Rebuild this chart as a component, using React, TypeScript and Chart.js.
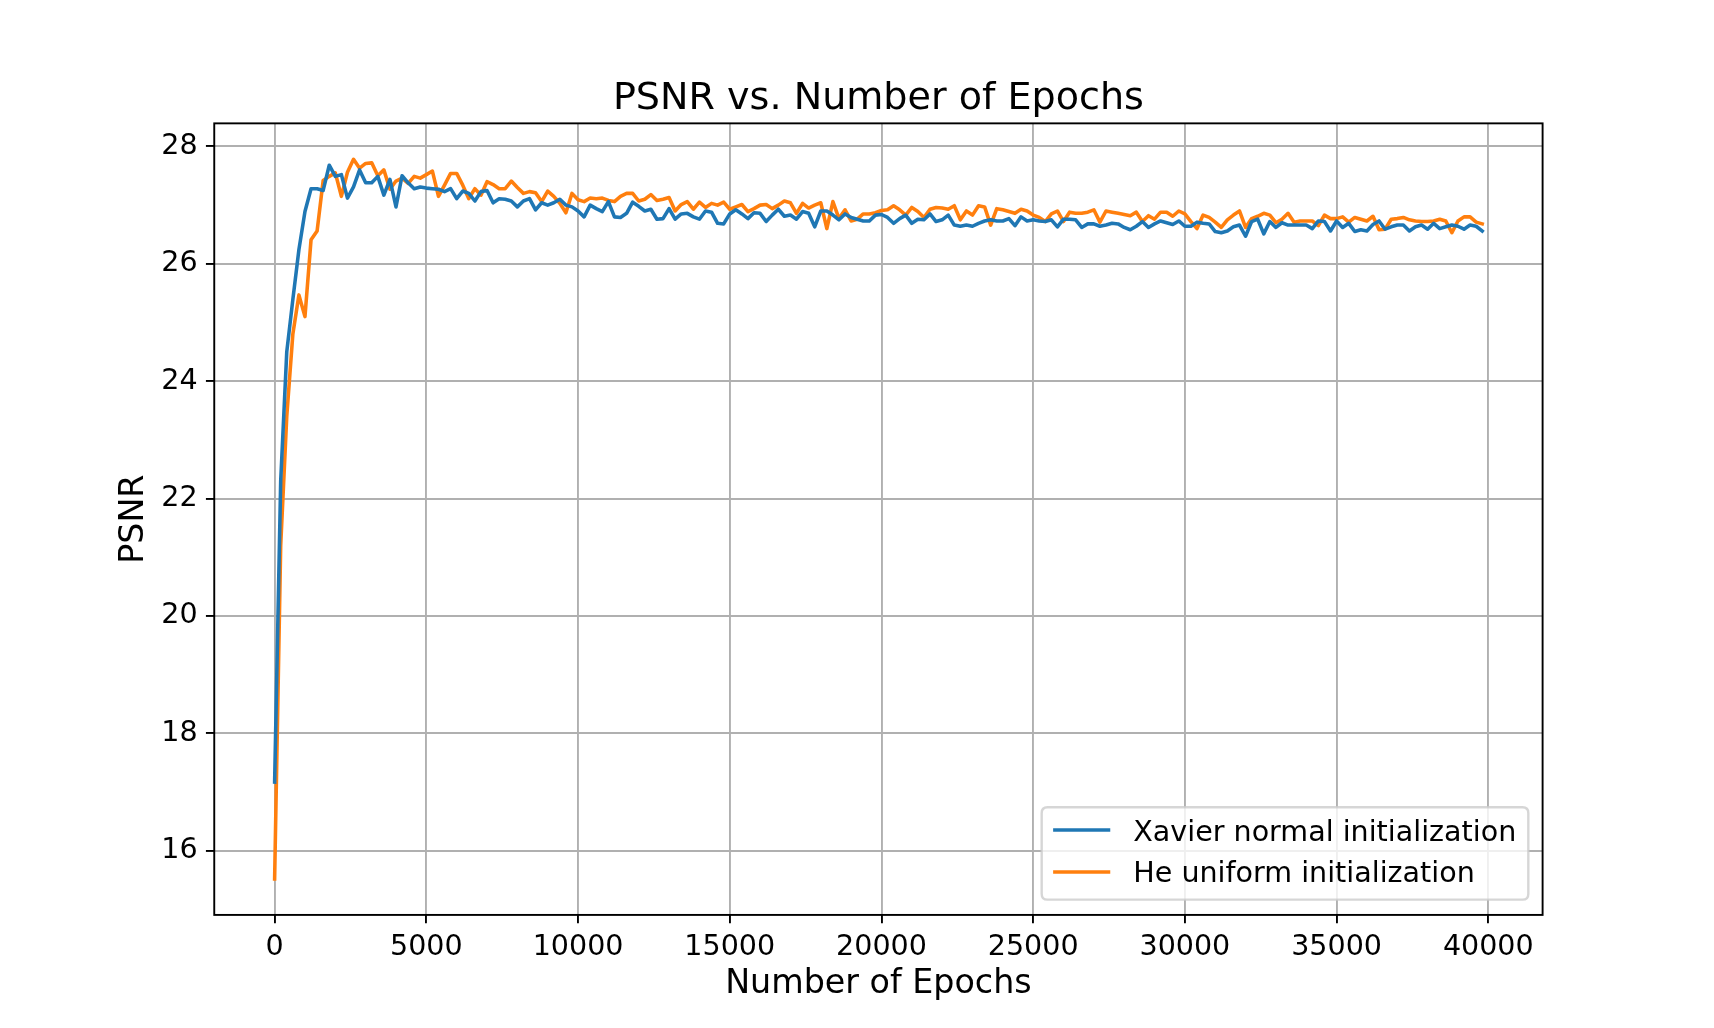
import React, { useEffect, useRef } from "react";
import { Chart, registerables } from "chart.js";

Chart.register(...registerables);

// ---------------- data ----------------
const epochs = [
  0, 200, 400, 600, 800, 1000, 1200, 1400, 1600, 1800,
  2000, 2200, 2400, 2600, 2800, 3000, 3200, 3400, 3600, 3800,
  4000, 4200, 4400, 4600, 4800, 5000, 5200, 5400, 5600, 5800,
  6000, 6200, 6400, 6600, 6800, 7000, 7200, 7400, 7600, 7800,
  8000, 8200, 8400, 8600, 8800, 9000, 9200, 9400, 9600, 9800,
  10000, 10200, 10400, 10600, 10800, 11000, 11200, 11400, 11600, 11800,
  12000, 12200, 12400, 12600, 12800, 13000, 13200, 13400, 13600, 13800,
  14000, 14200, 14400, 14600, 14800, 15000, 15200, 15400, 15600, 15800,
  16000, 16200, 16400, 16600, 16800, 17000, 17200, 17400, 17600, 17800,
  18000, 18200, 18400, 18600, 18800, 19000, 19200, 19400, 19600, 19800,
  20000, 20200, 20400, 20600, 20800, 21000, 21200, 21400, 21600, 21800,
  22000, 22200, 22400, 22600, 22800, 23000, 23200, 23400, 23600, 23800,
  24000, 24200, 24400, 24600, 24800, 25000, 25200, 25400, 25600, 25800,
  26000, 26200, 26400, 26600, 26800, 27000, 27200, 27400, 27600, 27800,
  28000, 28200, 28400, 28600, 28800, 29000, 29200, 29400, 29600, 29800,
  30000, 30200, 30400, 30600, 30800, 31000, 31200, 31400, 31600, 31800,
  32000, 32200, 32400, 32600, 32800, 33000, 33200, 33400, 33600, 33800,
  34000, 34200, 34400, 34600, 34800, 35000, 35200, 35400, 35600, 35800,
  36000, 36200, 36400, 36600, 36800, 37000, 37200, 37400, 37600, 37800,
  38000, 38200, 38400, 38600, 38800, 39000, 39200, 39400, 39600, 39800,
];

const xavierPSNR = [
  17.17, 22.3, 24.5, 25.39, 26.24, 26.89, 27.28, 27.28, 27.25, 27.68,
  27.49, 27.52, 27.12, 27.31, 27.6, 27.38, 27.38, 27.49, 27.17, 27.44,
  26.97, 27.5, 27.38, 27.28, 27.31, 27.29, 27.28, 27.27, 27.23, 27.28,
  27.11, 27.24, 27.2, 27.07, 27.23, 27.25, 27.04, 27.11, 27.1, 27.07,
  26.97, 27.07, 27.11, 26.92, 27.04, 27.0, 27.04, 27.1, 27.0, 26.97,
  26.9, 26.8, 27.0, 26.94, 26.89, 27.06, 26.8, 26.79, 26.86, 27.05,
  26.98, 26.9, 26.93, 26.76, 26.77, 26.94, 26.76, 26.85, 26.86, 26.8,
  26.76, 26.9, 26.88, 26.69, 26.68, 26.85, 26.92, 26.85, 26.77, 26.87,
  26.86, 26.72, 26.83, 26.93, 26.81, 26.83, 26.76, 26.89, 26.86, 26.63,
  26.9, 26.9, 26.83, 26.75, 26.85, 26.79, 26.76, 26.73, 26.73, 26.83,
  26.84, 26.79, 26.69, 26.77, 26.83, 26.69, 26.76, 26.75, 26.85, 26.72,
  26.75, 26.83, 26.66, 26.64, 26.66, 26.64, 26.69, 26.73, 26.75, 26.73,
  26.73, 26.77, 26.65, 26.8, 26.73, 26.75, 26.73, 26.72, 26.75, 26.63,
  26.76, 26.76, 26.75, 26.62, 26.68, 26.68, 26.64, 26.66, 26.69, 26.68,
  26.62, 26.58, 26.64, 26.72, 26.62, 26.68, 26.73, 26.7, 26.67, 26.73,
  26.64, 26.64, 26.71, 26.69, 26.68, 26.55, 26.53, 26.56, 26.63, 26.66,
  26.47, 26.72, 26.76, 26.51, 26.72, 26.62, 26.7, 26.66, 26.66, 26.66,
  26.66, 26.6, 26.73, 26.72, 26.56, 26.73, 26.62, 26.69, 26.55, 26.58,
  26.56, 26.67, 26.73, 26.59, 26.63, 26.66, 26.66, 26.56, 26.63, 26.66,
  26.59, 26.69, 26.6, 26.63, 26.66, 26.64, 26.59, 26.66, 26.64, 26.56,
];

const hePSNR = [
  15.52, 21.2, 23.4, 24.8, 25.47, 25.1, 26.41, 26.56, 27.42, 27.49,
  27.55, 27.15, 27.56, 27.78, 27.63, 27.71, 27.72, 27.5, 27.6, 27.27,
  27.41, 27.46, 27.37, 27.49, 27.46, 27.52, 27.58, 27.15, 27.34, 27.54,
  27.54, 27.34, 27.11, 27.28, 27.17, 27.4, 27.35, 27.28, 27.28, 27.41,
  27.3, 27.2, 27.23, 27.21, 27.06, 27.24, 27.15, 27.03, 26.87, 27.2,
  27.09, 27.06, 27.12, 27.11, 27.12, 27.08, 27.06, 27.15, 27.2, 27.2,
  27.07, 27.1, 27.18, 27.08, 27.1, 27.13, 26.9, 27.01, 27.06, 26.93,
  27.05, 26.96, 27.03, 27.0, 27.05, 26.93, 26.97, 27.01, 26.89, 26.94,
  27.0, 27.01, 26.94, 27.0, 27.07, 27.04, 26.86, 27.03, 26.95, 27.0,
  27.04, 26.6, 27.06, 26.77, 26.92, 26.73, 26.76, 26.85, 26.85, 26.87,
  26.91, 26.92, 26.99, 26.92, 26.83, 26.96, 26.89, 26.79, 26.93, 26.96,
  26.95, 26.93, 26.99, 26.75, 26.9, 26.83, 26.99, 26.97, 26.66, 26.94,
  26.92, 26.89, 26.86, 26.93, 26.9, 26.83, 26.79, 26.72, 26.85, 26.9,
  26.72, 26.88, 26.86, 26.86, 26.88, 26.92, 26.71, 26.9, 26.88, 26.86,
  26.84, 26.82, 26.88, 26.72, 26.82, 26.76, 26.88, 26.88, 26.81, 26.9,
  26.85, 26.72, 26.6, 26.83, 26.79, 26.71, 26.62, 26.75, 26.83, 26.9,
  26.62, 26.77, 26.81, 26.86, 26.83, 26.7, 26.76, 26.86, 26.71, 26.73,
  26.73, 26.73, 26.65, 26.83, 26.77, 26.77, 26.8, 26.71, 26.79, 26.76,
  26.73, 26.81, 26.58, 26.59, 26.76, 26.77, 26.79, 26.75, 26.73, 26.72,
  26.72, 26.73, 26.76, 26.73, 26.53, 26.73, 26.8, 26.8, 26.71, 26.68,
];

const xTickValues = [0, 5000, 10000, 15000, 20000, 25000, 30000, 35000, 40000];
const yTickValues = [16, 18, 20, 22, 24, 26, 28];

const seriesLabels = ["Xavier normal initialization", "He uniform initialization"];
const seriesColors = ["#1f77b4", "#ff7f0e"];
const titleText = "PSNR vs. Number of Epochs";
const xAxisLabel = "Number of Epochs";
const yAxisLabel = "PSNR";

// ---------------- layout (matplotlib-like) ----------------
const W = 1714;
const H = 1028;
const PT = 171.4 / 72;
const FONT = "'DejaVu Sans', sans-serif";
const AX_LEFT = 0.125 * W;
const AX_RIGHT = 0.9 * W;
const AX_TOP = 0.12 * H;
const AX_BOTTOM = 0.89 * H;
const X_MIN = -1990;
const X_MAX = 41790;
const Y_MIN = 14.907;
const Y_MAX = 28.393;

const framePlugin = {
  id: "frameTitleLegend",
  afterDatasetsDraw(chart: any) {
    const { ctx, chartArea } = chart;
    const { left, right, top, bottom } = chartArea;
    ctx.save();
    // spines
    ctx.strokeStyle = "#000";
    ctx.lineWidth = 0.8 * PT;
    ctx.strokeRect(left, top, right - left, bottom - top);

    // title
    ctx.fillStyle = "#000";
    ctx.font = `${16 * PT}px ${FONT}`;
    ctx.textAlign = "center";
    ctx.textBaseline = "alphabetic";
    ctx.fillText(titleText, (left + right) / 2, top - 6 * PT);

    // legend
    const fs = 12 * PT;
    const boxRight = right - 0.5 * fs;
    const boxBottom = bottom - 0.5 * fs - 1;
    const boxLeft = 1041.7;
    const boxTop = 807.3;
    const r = 0.2 * fs;
    ctx.beginPath();
    ctx.moveTo(boxLeft + r, boxTop);
    ctx.lineTo(boxRight - r, boxTop);
    ctx.quadraticCurveTo(boxRight, boxTop, boxRight, boxTop + r);
    ctx.lineTo(boxRight, boxBottom - r);
    ctx.quadraticCurveTo(boxRight, boxBottom, boxRight - r, boxBottom);
    ctx.lineTo(boxLeft + r, boxBottom);
    ctx.quadraticCurveTo(boxLeft, boxBottom, boxLeft, boxBottom - r);
    ctx.lineTo(boxLeft, boxTop + r);
    ctx.quadraticCurveTo(boxLeft, boxTop, boxLeft + r, boxTop);
    ctx.closePath();
    ctx.fillStyle = "rgba(255,255,255,0.8)";
    ctx.fill();
    ctx.strokeStyle = "rgba(204,204,204,0.8)";
    ctx.lineWidth = 1.0 * PT;
    ctx.stroke();

    const rowCenters = [830, 872];
    const baselines = [840.7, 882.4];
    chart.data.datasets.forEach((ds: any, i: number) => {
      ctx.beginPath();
      ctx.strokeStyle = ds.borderColor;
      ctx.lineWidth = 1.5 * PT;
      ctx.lineCap = "butt";
      ctx.moveTo(boxLeft + 0.4 * fs, rowCenters[i]);
      ctx.lineTo(boxLeft + 0.4 * fs + 2 * fs, rowCenters[i]);
      ctx.stroke();
      ctx.fillStyle = "#000";
      ctx.font = `${fs}px ${FONT}`;
      ctx.textAlign = "left";
      ctx.textBaseline = "alphabetic";
      ctx.fillText(ds.label, 1133.3, baselines[i]);
    });
    ctx.restore();
  },
};

export default function App() {
  const canvasRef = useRef<HTMLCanvasElement | null>(null);

  useEffect(() => {
    if (!canvasRef.current) return;
    const makeData = (vals: number[]) => epochs.map((e, i) => ({ x: e, y: vals[i] }));
    const seriesValues = [xavierPSNR, hePSNR];
    const chart = new Chart(canvasRef.current, {
      type: "line",
      data: {
        datasets: seriesValues.map((vals, i) => ({
          label: seriesLabels[i],
          data: makeData(vals),
          borderColor: seriesColors[i],
          backgroundColor: seriesColors[i],
          borderWidth: 1.5 * PT,
          pointRadius: 0,
          pointHoverRadius: 0,
          tension: 0,
          fill: false,
          borderJoinStyle: "round",
          borderCapStyle: "square",
        })),
      },
      options: {
        responsive: false,
        animation: false,
        events: [],
        layout: {
          padding: { left: 0, top: AX_TOP, right: W - AX_RIGHT, bottom: 0 },
        },
        plugins: {
          legend: { display: false },
          title: { display: false },
          tooltip: { enabled: false },
        },
        scales: {
          x: {
            type: "linear",
            min: X_MIN,
            max: X_MAX,
            afterBuildTicks: (s: any) => {
              s.ticks = xTickValues.map((v) => ({ value: v }));
            },
            afterFit: (s: any) => {
              s.height = H - AX_BOTTOM;
            },
            ticks: {
              font: { family: FONT, size: 12 * PT, lineHeight: 1.15 },
              color: "#000",
              padding: 3.5 * PT,
              maxRotation: 0,
              autoSkip: false,
              callback: (v: any) => String(v),
            },
            grid: {
              color: "#b0b0b0",
              lineWidth: 0.8 * PT,
              drawTicks: true,
              tickLength: 3.5 * PT,
              tickColor: "#000",
              tickWidth: 0.8 * PT,
            },
            border: { display: false },
            title: {
              display: true,
              text: xAxisLabel,
              color: "#000",
              font: { family: FONT, size: 14 * PT, lineHeight: 1.2 },
              padding: { top: 0, bottom: 23.6 },
            },
          },
          y: {
            type: "linear",
            min: Y_MIN,
            max: Y_MAX,
            afterBuildTicks: (s: any) => {
              s.ticks = yTickValues.map((v) => ({ value: v }));
            },
            afterFit: (s: any) => {
              s.width = AX_LEFT;
            },
            ticks: {
              font: { family: FONT, size: 12 * PT, lineHeight: 1.2 },
              color: "#000",
              padding: 3.5 * PT,
              autoSkip: false,
              callback: (v: any) => String(v),
            },
            grid: {
              color: "#b0b0b0",
              lineWidth: 0.8 * PT,
              drawTicks: true,
              tickLength: 3.5 * PT,
              tickColor: "#000",
              tickWidth: 0.8 * PT,
            },
            border: { display: false },
            title: {
              display: true,
              text: yAxisLabel,
              color: "#000",
              font: { family: FONT, size: 14 * PT, lineHeight: 1.2 },
              padding: { top: 114, bottom: 0 },
            },
          },
        },
      },
      plugins: [framePlugin],
    } as any);
    return () => chart.destroy();
  }, []);

  return (
    <div style={{ position: "fixed", left: 0, top: 0, width: W, height: H, background: "#fff" }}>
      <canvas ref={canvasRef} width={W} height={H} style={{ width: W, height: H, display: "block" }} />
    </div>
  );
}
